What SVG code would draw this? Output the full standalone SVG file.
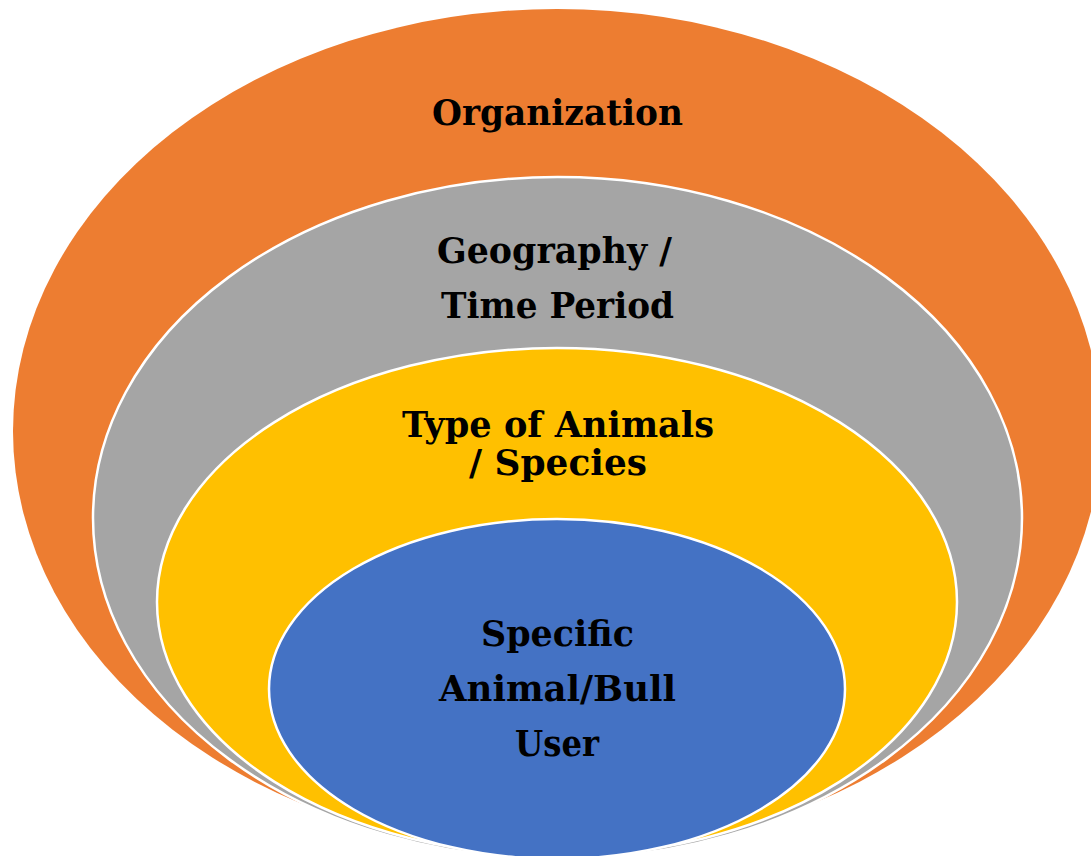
<svg xmlns="http://www.w3.org/2000/svg" width="1091" height="856" viewBox="0 0 1091 856">
<style>
.ring{stroke:#FFFFFF;stroke-width:2.5}
.lbl{font-family:"DejaVu Serif","Liberation Serif",serif;font-weight:bold;font-size:35px;fill:#000000}
</style>
<rect width="1091" height="856" fill="#FFFFFF"/>
<g id="organization">
<ellipse cx="557" cy="431" rx="544" ry="422" fill="#ED7D31"/>
<text class="lbl" x="432" y="125" textLength="251" lengthAdjust="spacingAndGlyphs">Organization</text>
</g>
<g id="geography">
<ellipse class="ring" cx="557.5" cy="518" rx="464.5" ry="341" fill="#A5A5A5"/>
<text class="lbl" x="437" y="263" textLength="235" lengthAdjust="spacingAndGlyphs">Geography /</text>
<text class="lbl" x="441" y="318" textLength="233" lengthAdjust="spacingAndGlyphs">Time Period</text>
</g>
<g id="species">
<ellipse class="ring" cx="557" cy="602" rx="400" ry="254" fill="#FFC000"/>
<text class="lbl" x="402" y="437" textLength="312" lengthAdjust="spacingAndGlyphs">Type of Animals</text>
<text class="lbl" x="469" y="475" textLength="178" lengthAdjust="spacingAndGlyphs">/ Species</text>
</g>
<g id="user">
<ellipse class="ring" cx="557" cy="689" rx="288" ry="170" fill="#4472C4"/>
<text class="lbl" x="481" y="646" textLength="153" lengthAdjust="spacingAndGlyphs">Specific</text>
<text class="lbl" x="439" y="701" textLength="237" lengthAdjust="spacingAndGlyphs">Animal/Bull</text>
<text class="lbl" x="515" y="756" textLength="84" lengthAdjust="spacingAndGlyphs">User</text>
</g>
<g id="connectors"/>
</svg>
